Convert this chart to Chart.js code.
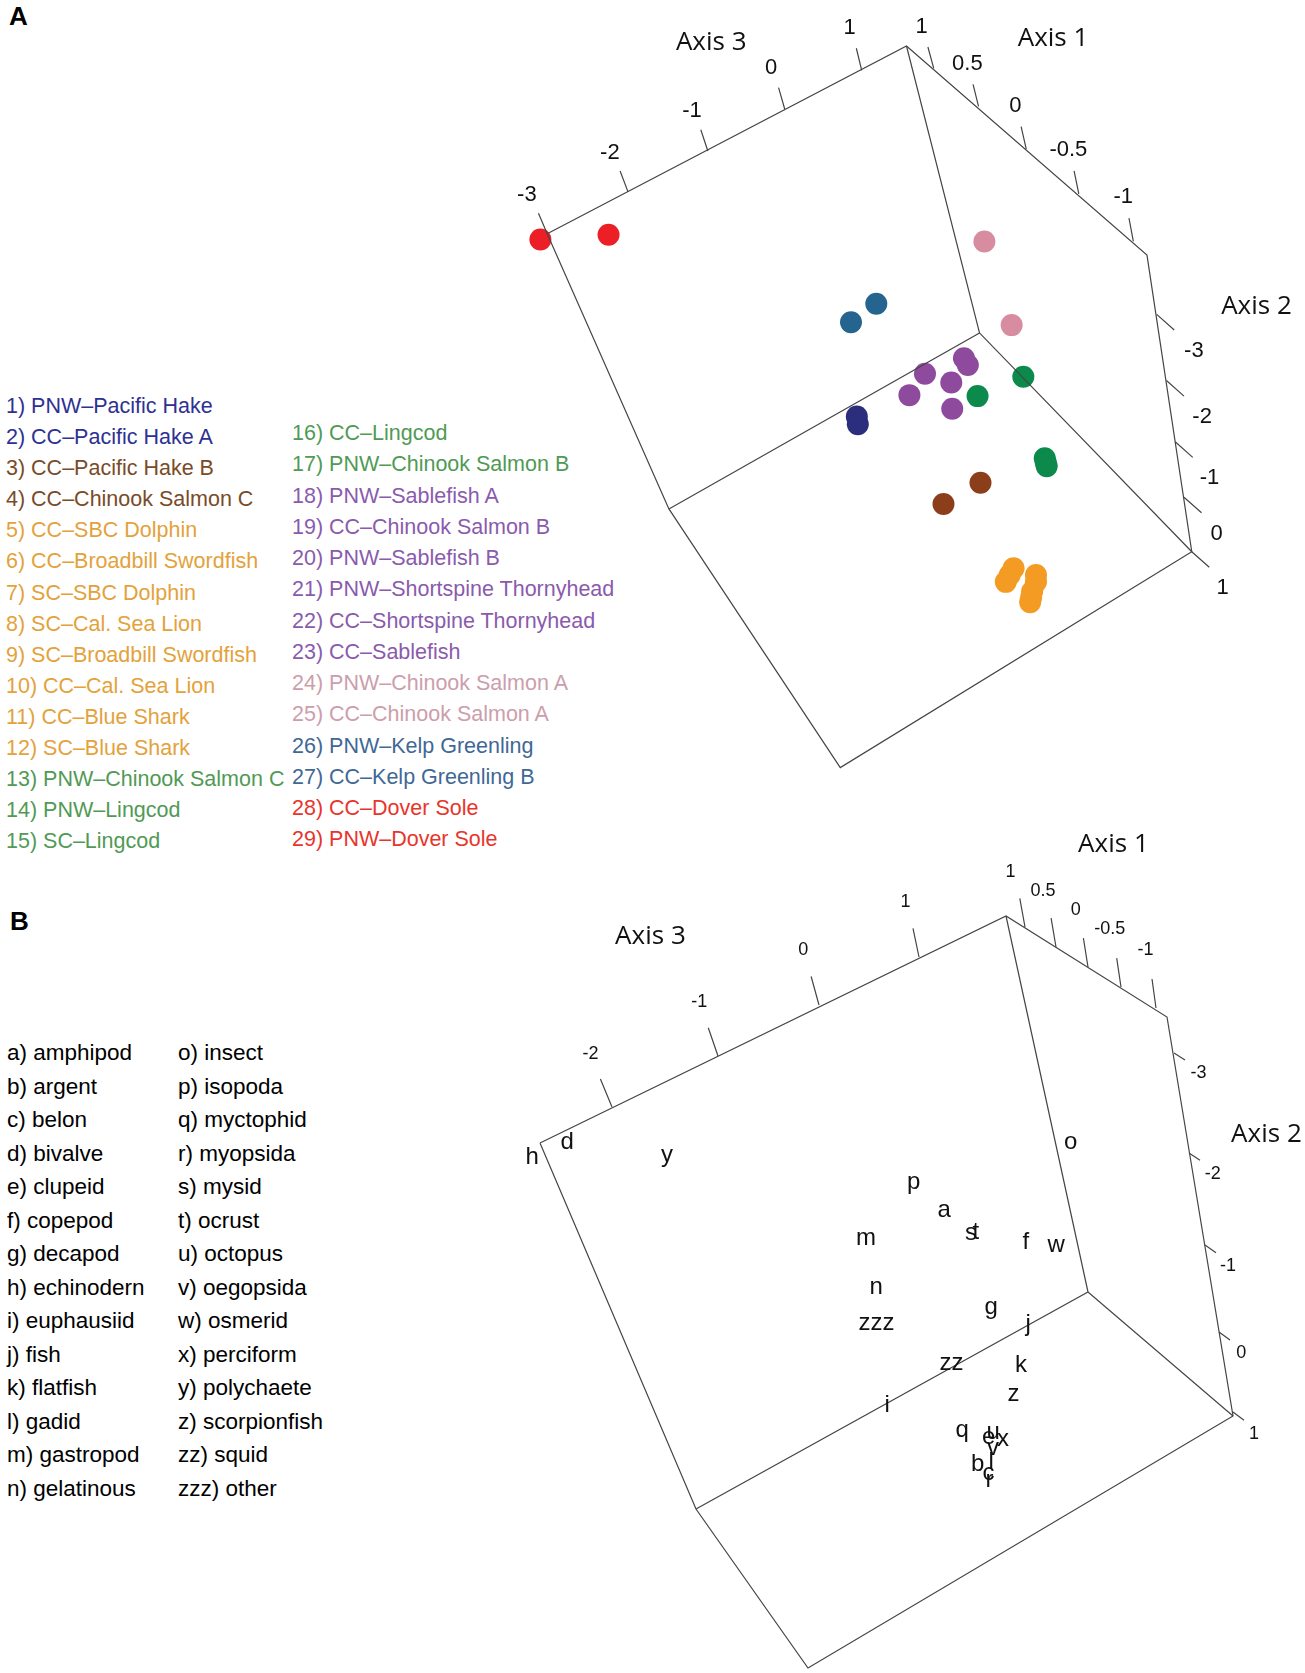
<!DOCTYPE html>
<html>
<head>
<meta charset="utf-8">
<script src="https://cdn.jsdelivr.net/npm/chart.js@4.4.1/dist/chart.umd.min.js"></script>
<style>
  body { margin: 0; background: #fff; width: 1305px; height: 1673px; position: relative; overflow: hidden;
         font-family: "Liberation Sans", Arial, sans-serif; }
  .tag { position: absolute; font-weight: bold; font-size: 26px; line-height: 26px; }
  .leg { position: absolute; white-space: nowrap; }
  canvas { position: absolute; }
</style>
</head>
<body>
<div class="tag" style="left:9px;top:3px">A</div>
<div class="tag" style="left:10px;top:908px">B</div>
<div id="legA1" class="leg" style="left:6px;top:391px;font-size:21.5px;line-height:31.1px"></div>
<div id="legA2" class="leg" style="left:292px;top:418px;font-size:21.5px;line-height:31.25px"></div>
<div id="legB1" class="leg" style="left:7px;top:1036px;font-size:22.5px;line-height:33.5px"></div>
<div id="legB2" class="leg" style="left:178px;top:1036px;font-size:22.5px;line-height:33.5px"></div>
<canvas id="chartA" width="835" height="800" style="left:470px;top:0;width:835px;height:800px"></canvas>
<canvas id="chartB" width="835" height="873" style="left:470px;top:800px;width:835px;height:873px"></canvas>

<script>
// ---------- Panel A: consumer diets (scores in the projected view) ----------
const legendA = [
  "1) PNW–Pacific Hake", "2) CC–Pacific Hake A", "3) CC–Pacific Hake B", "4) CC–Chinook Salmon C",
  "5) CC–SBC Dolphin", "6) CC–Broadbill Swordfish", "7) SC–SBC Dolphin", "8) SC–Cal. Sea Lion",
  "9) SC–Broadbill Swordfish", "10) CC–Cal. Sea Lion", "11) CC–Blue Shark", "12) SC–Blue Shark",
  "13) PNW–Chinook Salmon C", "14) PNW–Lingcod", "15) SC–Lingcod",
  "16) CC–Lingcod", "17) PNW–Chinook Salmon B", "18) PNW–Sablefish A", "19) CC–Chinook Salmon B",
  "20) PNW–Sablefish B", "21) PNW–Shortspine Thornyhead", "22) CC–Shortspine Thornyhead",
  "23) CC–Sablefish", "24) PNW–Chinook Salmon A", "25) CC–Chinook Salmon A",
  "26) PNW–Kelp Greenling", "27) CC–Kelp Greenling B", "28) CC–Dover Sole", "29) PNW–Dover Sole"
];
const legendGroupA = [0,0,1,1,2,2,2,2,2,2,2,2,3,3,3,3,3,4,4,4,4,4,4,5,5,6,6,7,7];
const groupTextColors = ["#2e3192","#7a4b27","#e3a23b","#509a55","#8a5bad","#cc9eac","#3f6896","#e8352c"];
const groupDotColors  = ["#2a2e7c","#8c3e1b","#f39b23","#0b8a4c","#8e4b9e","#d78c9f","#25648f","#ec1f26"];

// scores per group (x, y in the view plane)
const hakeX = [856, 857];                 const hakeY = [417, 425];
const hakeBX = [983, 945];                const hakeBY = [485, 507];
const predatorX = [1017, 1009, 1013, 1040, 1036, 1034, 1040, 1035];
const predatorY = [573, 587, 580, 580, 597, 608, 587, 603];
const lingcodX = [1027, 980, 1049, 1051, 1050];
const lingcodY = [376, 396, 460, 468, 464];
const sablefishX = [966, 970, 926, 953, 910, 954];
const sablefishY = [357, 364, 373, 382, 395, 409];
const chinookAX = [987, 1015];            const chinookAY = [237, 323];
const kelpX = [876, 850];                 const kelpY = [301, 320];
const doverX = [531, 601];                const doverY = [235, 230];
const groupXs = [hakeX, hakeBX, predatorX, lingcodX, sablefishX, chinookAX, kelpX, doverX];
const groupYs = [hakeY, hakeBY, predatorY, lingcodY, sablefishY, chinookAY, kelpY, doverY];

// box frame A
const outerXA = [538, 907, 1154, 1200, 839, 663, 538];
const outerYA = [229, 36, 251, 556, 778, 512, 229];
const innerXA = [907, 982, null, 663, 982, 1200];
const innerYA = [36, 331, null, 512, 331, 556];

// axes A: tick values and where they sit on the frame
const ax3ValsA = ["-3", "-2", "-1", "0", "1"];
const ax3XA = [538, 621, 703, 782, 861];  const ax3YA = [229, 186, 144, 101, 61];
const ax1ValsA = ["1", "0.5", "0", "-0.5", "-1"];
const ax1XA = [935, 981, 1030, 1084, 1140]; const ax1YA = [59, 98, 142, 188, 237];
const ax2ValsA = ["-3", "-2", "-1", "0", "1"];
const ax2XA = [1164, 1174, 1183, 1192, 1200]; const ax2YA = [312, 380, 443, 500, 556];

// ---------- Panel B: prey items ----------
const preyLegend1 = ["a) amphipod","b) argent","c) belon","d) bivalve","e) clupeid","f) copepod","g) decapod",
  "h) echinodern","i) euphausiid","j) fish","k) flatfish","l) gadid","m) gastropod","n) gelatinous"];
const preyLegend2 = ["o) insect","p) isopoda","q) myctophid","r) myopsida","s) mysid","t) ocrust","u) octopus",
  "v) oegopsida","w) osmerid","x) perciform","y) polychaete","z) scorpionfish","zz) squid","zzz) other"];
const preyCodes = ["a","b","c","d","e","f","g","h","i","j","k","l","m","n","o","p","q","r","s","t",
  "u","v","w","x","y","z","zz","zzz"];
const preyX = [945, 978, 989, 567, 989, 1026, 991, 532, 887, 1027, 1022, 991, 866, 876, 1071, 914,
  962, 990, 971, 976, 993, 993, 1056, 1003, 667, 1013, 951, 876];
const preyY = [1210, 1462, 1473, 1140, 1437, 1240, 1310, 1155, 1403, 1325, 1363, 1460, 1238, 1287, 1142, 1185,
  1433, 1480, 1233, 1231, 1432, 1448, 1245, 1439, 1158, 1394, 1363, 1323];

const outerXB = [540, 1006, 1167, 1233, 808, 696, 540];
const outerYB = [1143, 916, 1017, 1416, 1668, 1509, 1143];
const innerXB = [1006, 1088, null, 696, 1088, 1233];
const innerYB = [916, 1292, null, 1509, 1292, 1416];

const ax3ValsB = ["-2", "-1", "0", "1"];
const ax3XB = [612, 718, 819, 919];       const ax3YB = [1107, 1056, 1005, 957];
const ax1ValsB = ["1", "0.5", "0", "-0.5", "-1"];
const ax1XB = [1025, 1056, 1088, 1121, 1156]; const ax1YB = [927, 947, 967, 987, 1008];
const ax2ValsB = ["-3", "-2", "-1", "0", "1"];
const ax2XB = [1174, 1189, 1205, 1219, 1233]; const ax2YB = [1053, 1153, 1245, 1332, 1412];

// ---------- legends ----------
function fillLegend(id, items, colorOf) {
  const el = document.getElementById(id);
  items.forEach((t, i) => {
    const d = document.createElement("div");
    d.textContent = t;
    if (colorOf) d.style.color = colorOf(i);
    el.appendChild(d);
  });
}
fillLegend("legA1", legendA.slice(0, 15), i => groupTextColors[legendGroupA[i]]);
fillLegend("legA2", legendA.slice(15), i => groupTextColors[legendGroupA[i + 15]]);
fillLegend("legB1", preyLegend1);
fillLegend("legB2", preyLegend2);

// ---------- chart helpers ----------
const pts = (xs, ys) => xs.map((x, i) => ({ x: x, y: ys[i] }));
const LINE = "#454545";

function lineSet(data) {
  return { data: data, showLine: true, spanGaps: false, borderColor: LINE, borderWidth: 1.2,
           pointRadius: 0, fill: false, tension: 0, clip: false };
}

// tick segments + their labels; offsets change along the axis (perspective)
function axisParts(xs, ys, vals, tickOff, labOff, font, items) {
  const data = [];
  const n = xs.length - 1;
  const lerp = (pair, k, i) => pair[0][k] + (pair[1][k] - pair[0][k]) * i / n;
  xs.forEach((x, i) => {
    const y = ys[i];
    data.push({ x: x, y: y }, { x: x + lerp(tickOff, 0, i), y: y + lerp(tickOff, 1, i) }, { x: x, y: null });
    items.push({ x: x + lerp(labOff, 0, i), y: y + lerp(labOff, 1, i), text: vals[i], font: font });
  });
  return lineSet(data);
}

// draw text so that its ink box is centred on (px, py)
function centredText(ctx, text, px, py) {
  const m = ctx.measureText(text);
  const w = m.actualBoundingBoxRight - m.actualBoundingBoxLeft;
  const h = m.actualBoundingBoxAscent - m.actualBoundingBoxDescent;
  ctx.fillText(text, px - (m.actualBoundingBoxRight - m.actualBoundingBoxLeft) / 2 - 0 * w, py + h / 2);
}

const textLayer = {
  id: "textLayer",
  afterDatasetsDraw(chart, args, opts) {
    const ctx = chart.ctx, sx = chart.scales.x, sy = chart.scales.y;
    ctx.save();
    ctx.textAlign = "left";
    ctx.textBaseline = "alphabetic";
    ctx.fillStyle = "#111";
    (opts.items || []).forEach(it => {
      ctx.font = it.font;
      centredText(ctx, it.text, sx.getPixelForValue(it.x), sy.getPixelForValue(it.y));
    });
    // text markers for datasets that carry labels
    chart.data.datasets.forEach((ds, di) => {
      if (!ds.textLabels) return;
      ctx.font = ds.textFont;
      chart.getDatasetMeta(di).data.forEach((pt, i) => centredText(ctx, ds.textLabels[i], pt.x, pt.y));
    });
    ctx.restore();
  }
};

function makeChart(id, yMin, yMax, datasets, items) {
  return new Chart(document.getElementById(id), {
    type: "scatter",
    data: { datasets: datasets },
    options: {
      responsive: false,
      animation: false,
      events: [],
      layout: { padding: 0 },
      scales: {
        x: { type: "linear", min: 470, max: 1305, display: false },
        y: { type: "linear", min: yMin, max: yMax, reverse: true, display: false }
      },
      plugins: { legend: { display: false }, tooltip: { enabled: false }, textLayer: { items: items } }
    },
    plugins: [textLayer]
  });
}

// ---------- panel A ----------
const itemsA = [];
const tickFontA = '22px "Liberation Sans", Arial, sans-serif';
const titleFont = '26px "Open Sans", Lato, sans-serif';
const dsA = [
  lineSet(pts(outerXA, outerYA)),
  lineSet(pts(innerXA, innerYA)),
  axisParts(ax3XA, ax3YA, ax3ValsA, [[-9, -21], [-5.5, -22.7]], [[-21, -41], [-12, -45]], tickFontA, itemsA),
  axisParts(ax1XA, ax1YA, ax1ValsA, [[-6, -22], [-4.5, -24]], [[-12, -44], [-10.5, -47]], tickFontA, itemsA),
  axisParts(ax2XA, ax2YA, ax2ValsA, [[18, 16], [18, 16]], [[38, 36], [32, 36]], tickFontA, itemsA)
];
groupXs.forEach((xs, g) => {
  dsA.push({ data: pts(xs, groupYs[g]), pointRadius: 11, pointBackgroundColor: groupDotColors[g],
             pointBorderWidth: 0, showLine: false, clip: false });
});
itemsA.push({ x: 706, y: 31, text: "Axis 3", font: titleFont },
            { x: 1055, y: 27, text: "Axis 1", font: titleFont },
            { x: 1266, y: 302, text: "Axis 2", font: titleFont });
makeChart("chartA", 0, 800, dsA, itemsA);

// ---------- panel B ----------
const itemsB = [];
const tickFontB = '18px "Liberation Sans", Arial, sans-serif';
const dsB = [
  lineSet(pts(outerXB, outerYB)),
  lineSet(pts(innerXB, innerYB)),
  axisParts(ax3XB, ax3YB, ax3ValsB, [[-11.6, -28], [-6, -28.7]], [[-21.6, -55], [-13, -57]], tickFontB, itemsB),
  axisParts(ax1XB, ax1YB, ax1ValsB, [[-5.2, -28.7], [-4, -29]], [[-14, -57], [-10.4, -60]], tickFontB, itemsB),
  axisParts(ax2XB, ax2YB, ax2ValsB, [[11, 7], [11, 8.3]], [[24.6, 18.7], [21.6, 20]], tickFontB, itemsB),
  { data: pts(preyX, preyY), pointRadius: 0, showLine: false, clip: false,
    textLabels: preyCodes, textFont: '24px "Liberation Sans", Arial, sans-serif' }
];
itemsB.push({ x: 650, y: 935, text: "Axis 3", font: titleFont },
            { x: 1111, y: 843, text: "Axis 1", font: titleFont },
            { x: 1266, y: 1133, text: "Axis 2", font: titleFont });
makeChart("chartB", 800, 1673, dsB, itemsB);
</script>
</body>
</html>
